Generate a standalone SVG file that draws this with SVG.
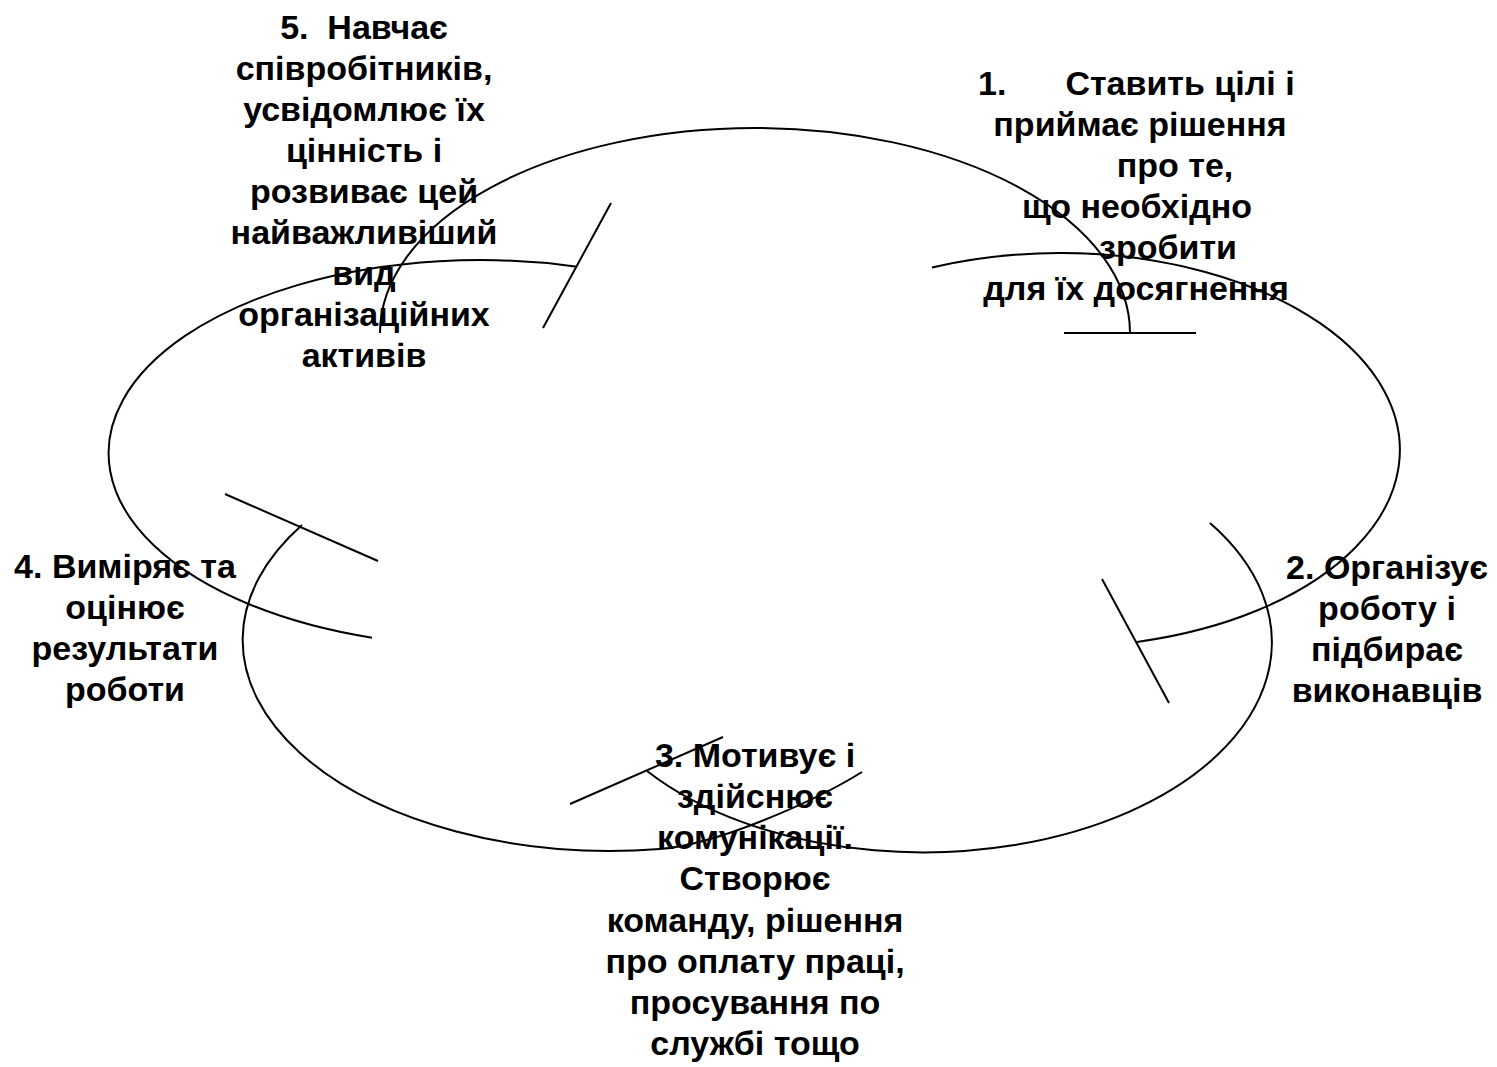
<svg xmlns="http://www.w3.org/2000/svg" width="1497" height="1067" viewBox="0 0 1497 1067">
  <style>
    .arc { fill: none; stroke: #000; stroke-width: 2; }
    .lbl { font-family: "Liberation Sans", Arial, sans-serif; font-weight: bold; font-size: 34px; fill: #000; }
    .c { text-anchor: middle; }
  </style>
  <rect width="1497" height="1067" fill="#fff"/>
  <g id="connectors">
    <path class="arc" d="M 380 333 A 375 205 0 0 1 1130 333"/>
    <line class="arc" x1="1064" y1="333" x2="1196" y2="333"/>
    <path class="arc" d="M 932 267.5 A 340 197 0 1 1 1137 641.9"/>
    <line class="arc" x1="1102" y1="579" x2="1169" y2="703"/>
    <path class="arc" d="M 1210 523 A 349 210 0 0 1 647 771"/>
    <line class="arc" x1="570" y1="804" x2="723" y2="737"/>
    <path class="arc" d="M 302 525 A 368 211 0 0 0 660 849 C 720 844.3 819.5 798.5 862 772"/>
    <line class="arc" x1="225" y1="494" x2="378" y2="561"/>
    <path class="arc" d="M 577 266.7 A 372 193 0 0 0 372 637.7"/>
    <line class="arc" x1="543" y1="328" x2="611" y2="203"/>
  </g>
  <g id="node1">
    <text class="lbl" x="978" y="95">1.</text>
    <text class="lbl c" x="1180" y="95">Ставить цілі і</text>
    <text class="lbl c" x="1140" y="136">приймає рішення</text>
    <text class="lbl c" x="1175" y="177">про те,</text>
    <text class="lbl c" x="1137" y="218">що необхідно</text>
    <text class="lbl c" x="1168" y="259">зробити</text>
    <text class="lbl c" x="1136" y="300">для їх досягнення</text>
  </g>
  <g id="node2">
    <text class="lbl c" x="1387" y="579">2. Організує</text>
    <text class="lbl c" x="1387" y="620">роботу і</text>
    <text class="lbl c" x="1387" y="661">підбирає</text>
    <text class="lbl c" x="1387" y="702">виконавців</text>
  </g>
  <g id="node3">
    <text class="lbl c" x="755" y="767">3. Мотивує і</text>
    <text class="lbl c" x="755" y="808">здійснює</text>
    <text class="lbl c" x="755" y="849">комунікації.</text>
    <text class="lbl c" x="755" y="890">Створює</text>
    <text class="lbl c" x="755" y="932">команду, рішення</text>
    <text class="lbl c" x="755" y="973">про оплату праці,</text>
    <text class="lbl c" x="755" y="1014">просування по</text>
    <text class="lbl c" x="755" y="1055">службі тощо</text>
  </g>
  <g id="node4">
    <text class="lbl c" x="125" y="578">4. Виміряє та</text>
    <text class="lbl c" x="125" y="619">оцінює</text>
    <text class="lbl c" x="125" y="660">результати</text>
    <text class="lbl c" x="125" y="701">роботи</text>
  </g>
  <g id="node5">
    <text class="lbl c" x="364" y="39" xml:space="preserve">5.  Навчає</text>
    <text class="lbl c" x="364" y="80">співробітників,</text>
    <text class="lbl c" x="364" y="121">усвідомлює їх</text>
    <text class="lbl c" x="364" y="162">цінність і</text>
    <text class="lbl c" x="364" y="203">розвиває цей</text>
    <text class="lbl c" x="364" y="244">найважливіший</text>
    <text class="lbl c" x="364" y="285">вид</text>
    <text class="lbl c" x="364" y="326">організаційних</text>
    <text class="lbl c" x="364" y="367">активів</text>
  </g>
</svg>
